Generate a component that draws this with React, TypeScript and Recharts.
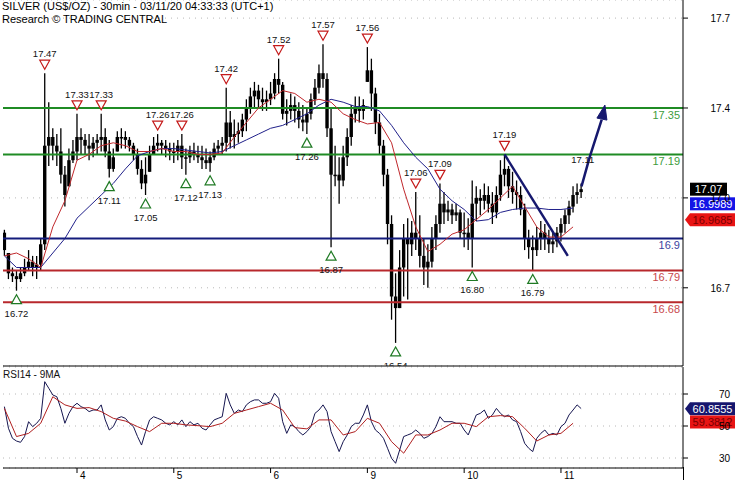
import React from "react";
import {
  ComposedChart,
  Bar,
  Line,
  Scatter,
  XAxis,
  YAxis,
  CartesianGrid,
  ReferenceLine,
  ReferenceDot,
} from "recharts";

// hourly bars, index 0 = first bar of day 3
const dayTickBars = [18, 42, 66, 90, 114, 138];
const dayLabels = ["4", "5", "6", "9", "10", "11"];

const firstOpen = 16.92;
const barHigh = [
  16.93, 16.85, 16.8, 16.79, 16.8, 16.83, 16.86, 16.84, 16.84, 16.9, 17.47, 17.37, 17.28, 17.26, 17.28, 17.15, 17.21, 17.24,
  17.33, 17.28, 17.26, 17.26, 17.25, 17.26, 17.33, 17.28, 17.24, 17.21, 17.27, 17.28, 17.27, 17.25, 17.23, 17.21, 17.17, 17.18, 17.22, 17.25, 17.26, 17.24, 17.24, 17.23,
  17.23, 17.24, 17.26, 17.21, 17.22, 17.23, 17.22, 17.22, 17.21, 17.2, 17.23, 17.24, 17.25, 17.42, 17.34, 17.31, 17.3, 17.33, 17.38, 17.42, 17.44, 17.43, 17.42, 17.41,
  17.44, 17.47, 17.52, 17.44, 17.38, 17.4, 17.39, 17.37, 17.36, 17.35, 17.4, 17.45, 17.5, 17.57, 17.47, 17.35, 17.22, 17.18, 17.22, 17.28, 17.36, 17.39, 17.39, 17.38,
  17.56, 17.52, 17.42, 17.33, 17.24, 17.14, 16.98, 16.78, 16.86, 16.95, 16.97, 16.96, 17.06, 16.98, 16.9, 16.88, 16.94, 16.98, 17.09, 17.06, 17.03, 17.02, 17.02, 17.0,
  16.99, 16.97, 17.1, 17.08, 17.07, 17.09, 17.08, 17.06, 17.08, 17.17, 17.19, 17.15, 17.13, 17.1, 17.08, 17.02, 16.93, 16.91, 16.94, 16.96, 16.95, 16.93, 16.92, 16.94,
  16.97, 17.0, 17.03, 17.08, 17.09, 17.09,
];
const barLow = [
  16.84, 16.76, 16.75, 16.72, 16.75, 16.77, 16.79, 16.77, 16.76, 16.79, 16.86, 17.15, 17.17, 17.15, 17.09, 17.01, 17.08, 17.16,
  17.17, 17.19, 17.19, 17.17, 17.18, 17.19, 17.2, 17.18, 17.11, 17.13, 17.2, 17.21, 17.21, 17.2, 17.17, 17.12, 17.07, 17.05, 17.13, 17.19, 17.2, 17.19, 17.18, 17.17,
  17.16, 17.17, 17.14, 17.12, 17.16, 17.17, 17.16, 17.14, 17.14, 17.13, 17.17, 17.19, 17.19, 17.2, 17.21, 17.21, 17.23, 17.25, 17.27, 17.33, 17.35, 17.35, 17.34, 17.34,
  17.36, 17.38, 17.4, 17.31, 17.29, 17.31, 17.3, 17.28, 17.27, 17.26, 17.31, 17.36, 17.4, 17.42, 17.25, 16.87, 17.08, 17.02, 17.08, 17.15, 17.22, 17.3, 17.3, 17.31,
  17.44, 17.34, 17.26, 17.19, 17.08, 16.88, 16.62, 16.54, 16.66, 16.7, 16.69, 16.84, 16.86, 16.8, 16.74, 16.73, 16.8, 16.86, 16.92, 16.95, 16.96, 16.95, 16.96, 16.9,
  16.87, 16.86, 16.8, 16.96, 16.98, 17.0, 16.99, 16.95, 16.97, 17.03, 17.08, 17.04, 17.02, 17.0, 16.98, 16.86, 16.83, 16.79, 16.84, 16.86, 16.86, 16.85, 16.85, 16.87,
  16.89, 16.92, 16.95, 16.99, 17.02, 17.04,
];
const barClose = [
  16.86, 16.78, 16.77, 16.76, 16.78, 16.8, 16.82, 16.8, 16.81, 16.88, 17.22, 17.25, 17.22, 17.2, 17.12, 17.05, 17.17, 17.2,
  17.25, 17.24, 17.22, 17.21, 17.23, 17.24, 17.25, 17.2, 17.14, 17.18, 17.25, 17.25, 17.24, 17.22, 17.19, 17.14, 17.09, 17.12, 17.19, 17.22, 17.23, 17.22, 17.21, 17.2,
  17.2, 17.22, 17.18, 17.18, 17.2, 17.19, 17.18, 17.17, 17.16, 17.18, 17.21, 17.22, 17.23, 17.3, 17.25, 17.26, 17.27, 17.31, 17.35, 17.39, 17.41, 17.38, 17.37, 17.38,
  17.4, 17.45, 17.43, 17.33, 17.34, 17.36, 17.34, 17.31, 17.3, 17.33, 17.38, 17.42, 17.47, 17.45, 17.28, 17.12, 17.12, 17.1, 17.18, 17.25, 17.33, 17.35, 17.34, 17.36,
  17.48, 17.4, 17.3, 17.22, 17.12, 16.95, 16.7, 16.66, 16.8, 16.9, 16.88, 16.92, 16.9, 16.84, 16.8, 16.82, 16.9, 16.95, 17.02, 16.99, 17.0, 16.98, 16.99, 16.92,
  16.92, 16.9, 17.02, 17.04, 17.03, 17.05, 17.02, 16.99, 17.05, 17.12, 17.14, 17.08, 17.06, 17.05, 17.0, 16.9, 16.87, 16.86, 16.9, 16.92, 16.9, 16.88, 16.89, 16.92,
  16.95, 16.98, 17.01, 17.05, 17.06, 17.07,
];

// moving averages read every 3 bars
const MA_STEP = 3;
const maRed = [
  16.84, 16.85, 16.83, 16.8, 16.94, 17.03, 17.17, 17.19, 17.22, 17.23, 17.22, 17.2, 17.2, 17.21, 17.2, 17.2,
  17.19, 17.19, 17.195, 17.25, 17.3, 17.35, 17.38, 17.41, 17.4, 17.37, 17.38, 17.37, 17.33, 17.31, 17.295, 17.3,
  17.23, 17.07, 16.94, 16.855, 16.88, 16.915, 16.93, 16.965, 17.0, 17.04, 17.08, 17.01, 16.94, 16.905, 16.905, 16.94,
];
const maBlue = [
  16.84, 16.8, 16.8, 16.8, 16.85, 16.9, 16.97, 17.01, 17.05, 17.09, 17.14, 17.185, 17.2, 17.21, 17.21, 17.205,
  17.2, 17.195, 17.2, 17.22, 17.24, 17.26, 17.28, 17.29, 17.31, 17.33, 17.36, 17.38, 17.37, 17.355, 17.355, 17.34,
  17.29, 17.23, 17.18, 17.14, 17.07, 17.03, 17.0, 16.96, 16.965, 16.99, 17.0, 17.005, 17.005, 17.0, 17.0, 17.005,
];

const rsi = [
  62.1, 48.6, 42.3, 40.6, 39.8, 43.4, 52.7, 49.6, 51.7, 54.8, 77.7, 73.6, 69.4, 68.3, 61.0, 51.7, 57.9, 62.1,
  64.2, 62.1, 61.0, 59.0, 60.0, 60.0, 63.2, 53.8, 47.5, 49.6, 54.8, 55.8, 54.8, 51.7, 49.6, 43.4, 38.1, 46.5, 53.8, 55.8, 54.8, 53.8, 51.7, 50.7,
  52.7, 50.7, 53.8, 49.6, 52.7, 50.7, 51.7, 48.6, 47.5, 50.7, 53.8, 54.8, 55.8, 70.4, 63.2, 57.9, 60.0, 59.0, 63.2, 65.2, 66.3, 66.3, 64.2, 64.2,
  65.2, 70.4, 67.3, 52.7, 45.4, 50.7, 49.6, 46.5, 44.4, 46.5, 49.6, 57.9, 60.0, 63.2, 59.0, 46.5, 40.2, 34.0, 40.2, 44.4, 49.6, 51.7, 51.7, 56.9,
  63.2, 52.7, 47.5, 45.4, 42.3, 36.1, 29.8, 26.7, 35.0, 43.4, 44.4, 45.4, 47.5, 45.4, 42.3, 43.4, 45.4, 49.6, 55.8, 52.7, 52.7, 52.7, 51.7, 51.7,
  47.5, 44.4, 50.7, 56.9, 57.9, 60.0, 54.8, 56.9, 61.0, 57.9, 55.8, 56.9, 53.8, 52.7, 46.5, 39.2, 36.1, 34.0, 42.3, 45.4, 47.5, 44.4, 45.4, 44.4,
  49.6, 51.7, 56.9, 60.0, 63.2, 60.9,
];
const rsiMa = [
  61.0, 43.4, 45.4, 51.7, 68.3, 63.2, 61.0, 61.5, 59.0, 54.8, 53.1, 49.6, 46.5, 51.7, 51.7, 50.7,
  50.2, 49.6, 51.7, 57.9, 60.0, 62.1, 64.2, 60.0, 49.0, 48.2, 53.8, 53.8, 44.4, 46.5, 54.8, 51.7,
  40.2, 33.0, 44.4, 44.4, 47.5, 51.7, 51.7, 49.6, 55.8, 56.5, 55.8, 48.6, 40.6, 44.4, 45.4, 51.7,
];

const highMarkBars = [10, 18, 24, 38, 44, 55, 68, 79, 90, 102, 108, 124];
const highMarkValues = [17.47, 17.33, 17.33, 17.26, 17.26, 17.42, 17.52, 17.57, 17.56, 17.06, 17.09, 17.19];
const lowMarkBars = [3, 26, 35, 45, 51, 75, 81, 97, 116, 131];
const lowMarkValues = [16.72, 17.11, 17.05, 17.12, 17.13, 17.26, 16.87, 16.54, 16.8, 16.79];

const levelValues = [17.35, 17.19, 16.9, 16.79, 16.68];
const levelLabels = ["17.35", "17.19", "16.9", "16.79", "16.68"];
const levelKinds = ["res", "res", "pivot", "sup", "sup"];

const priceTicks = [16.73, 17.04, 17.35, 17.66];
const priceTickLabels = ["16.7", "17.0", "17.4", "17.7"];
const rsiTicks = [30, 50, 70];

const trendBars = [124, 139.7];
const trendPrices = [17.19, 16.84];
const arrowBars = [143.1, 145.1, 148.1];
const arrowPrices = [17.08, 17.18, 17.31];
const arrowTip = { k: 148.9, v: 17.36 };
const targetNote = { k: 143.4, v: 17.16, text: "17.11" };

const lastClose = 17.07;
const lastBlueMa = 16.9989;
const lastRedMa = 16.9685;
const lastRsi = 60.8555;
const lastRsiMa = 59.3812;

const X_DOMAIN = [-0.35, 168.26];
const PRICE_DOMAIN = [16.4603, 17.7224];
const RSI_DOMAIN = [23.75, 86.875];

const FONT = '"Liberation Sans", Arial, sans-serif';
const levelColor: Record<string, string> = { res: "#1f8b24", pivot: "#141c7c", sup: "#b8282c" };
const levelText: Record<string, string> = { res: "#3c9c3c", pivot: "#3c44a0", sup: "#c8484c" };

const priceRows = barHigh.map((h, k) => {
  const l = barLow[k];
  const prev = k === 0 ? firstOpen : barClose[k - 1];
  const o = Math.min(h, Math.max(l, prev));
  return { k, o, h, l, c: barClose[k], range: [l, h] };
});
const maRedData = maRed.map((v, j) => ({ k: j * MA_STEP, v }));
const maBlueData = maBlue.map((v, j) => ({ k: j * MA_STEP, v }));
const rsiData = rsi.map((v, k) => ({ k, v }));
const rsiMaData = rsiMa.map((v, j) => ({ k: j * MA_STEP, v }));
const highMarks = highMarkBars.map((k, i) => ({ k, v: highMarkValues[i] }));
const lowMarks = lowMarkBars.map((k, i) => ({ k, v: lowMarkValues[i] }));
const arrowData = arrowBars.map((k, i) => ({ k, v: arrowPrices[i] }));

const Candle = (props: any) => {
  const { x, y, width, height, payload } = props;
  if (x == null || y == null) return null;
  const top = height >= 0 ? y : y + height;
  const hh = Math.abs(height);
  const { o, h, l, c } = payload;
  const ppu = h > l ? hh / (h - l) : 0;
  const cx = x + width / 2;
  const b1 = top + (h - Math.max(o, c)) * ppu;
  const b2 = top + (h - Math.min(o, c)) * ppu;
  return (
    <g>
      <line x1={cx} x2={cx} y1={top} y2={top + hh} stroke="#000" strokeWidth={1.3} />
      <rect x={cx - 1.7} y={b1} width={3.4} height={Math.max(1.5, b2 - b1)} fill="#000" />
    </g>
  );
};

const HighMark = (props: any) => {
  const { cx, cy, payload } = props;
  return (
    <g>
      <polygon
        points={`${cx - 5},${cy - 13} ${cx + 5},${cy - 13} ${cx},${cy - 4}`}
        fill="#fff"
        stroke="#c41a1a"
        strokeWidth={1.2}
      />
      <text x={cx} y={cy - 16} textAnchor="middle" fontSize={9.5} fontFamily={FONT} fill="#111">
        {payload.v.toFixed(2)}
      </text>
    </g>
  );
};

const LowMark = (props: any) => {
  const { cx, cy, payload } = props;
  return (
    <g>
      <polygon
        points={`${cx - 5},${cy + 13} ${cx + 5},${cy + 13} ${cx},${cy + 4}`}
        fill="#fff"
        stroke="#1f7a24"
        strokeWidth={1.2}
      />
      <text x={cx} y={cy + 26} textAnchor="middle" fontSize={9.5} fontFamily={FONT} fill="#111">
        {payload.v.toFixed(2)}
      </text>
    </g>
  );
};

const ArrowHead = (props: any) => {
  const { cx, cy } = props;
  return (
    <polygon
      points={`${cx},${cy} ${cx + 2},${cy + 15} ${cx - 8},${cy + 13}`}
      fill="#16186e"
      stroke="#16186e"
    />
  );
};

const NoteText = (props: any) => {
  const { cx, cy } = props;
  return (
    <text x={cx} y={cy} textAnchor="middle" fontSize={9.5} fontFamily={FONT} fill="#111">
      {targetNote.text}
    </text>
  );
};

const makeBadge = (text: string, bg: string, fg: string, pointer: boolean, dy: number, w: number) => {
  const Badge = (props: any) => {
    const { cx, cy } = props;
    const y = cy + dy;
    const left = cx + 7;
    return (
      <g>
        {pointer ? (
          <polygon
            points={`${cx + 2},${y} ${left},${y - 6.5} ${left + w},${y - 6.5} ${left + w},${y + 6.5} ${left},${y + 6.5}`}
            fill={bg}
          />
        ) : (
          <rect x={left} y={y - 6.5} width={w} height={13} fill={bg} />
        )}
        <text
          x={left + w / 2}
          y={y + 4}
          textAnchor="middle"
          fontSize={11}
          fontFamily={FONT}
          fill={fg}
        >
          {text}
        </text>
      </g>
    );
  };
  return Badge;
};

const PriceTick = (props: any) => {
  const { x, y, payload } = props;
  const i = priceTicks.indexOf(payload.value);
  return (
    <text x={x + 40} y={y + 4} textAnchor="end" fontSize={10} fontFamily={FONT} fill="#000">
      {priceTickLabels[i]}
    </text>
  );
};

const RsiTick = (props: any) => {
  const { x, y, payload } = props;
  return (
    <text x={x + 40} y={y + 4} textAnchor="end" fontSize={10} fontFamily={FONT} fill="#000">
      {payload.value}
    </text>
  );
};

const DayTick = (props: any) => {
  const { x, y, payload } = props;
  const i = dayTickBars.indexOf(payload.value);
  return (
    <text x={x + 3} y={y + 6} fontSize={10} fontFamily={FONT} fill="#000">
      {dayLabels[i]}
    </text>
  );
};

export default function App() {
  return (
    <div style={{ position: "relative", width: 735, height: 480, background: "#fff", fontFamily: FONT }}>
      <style>{"body{margin:0;background:#fff}"}</style>
      <ComposedChart
        width={735}
        height={367}
        data={priceRows}
        margin={{ top: 0, right: 0, bottom: 0, left: 3 }}
      >
        <CartesianGrid horizontal vertical={false} stroke="#b8b8b8" strokeDasharray="1 5" />
        <XAxis
          dataKey="k"
          type="number"
          domain={X_DOMAIN}
          allowDataOverflow
          ticks={dayTickBars}
          tick={false}
          tickLine={false}
          height={1}
          axisLine={{ stroke: "#000" }}
        />
        <YAxis
          orientation="right"
          type="number"
          domain={PRICE_DOMAIN}
          allowDataOverflow
          ticks={priceTicks}
          interval={0}
          width={52}
          tickSize={5}
          tickLine={{ stroke: "#000" }}
          axisLine={{ stroke: "#000" }}
          tick={<PriceTick />}
        />
        {levelValues.map((v, i) => (
          <ReferenceLine
            key={levelLabels[i]}
            y={v}
            stroke={levelColor[levelKinds[i]]}
            strokeWidth={2}
            label={{
              value: levelLabels[i],
              position: "insideTopRight",
              offset: 3,
              fill: levelText[levelKinds[i]],
              fontSize: 11,
              fontFamily: FONT,
            }}
          />
        ))}
        <Bar dataKey="range" barSize={3} shape={<Candle />} isAnimationActive={false} />
        <Line
          data={maBlueData}
          dataKey="v"
          stroke="#20208a"
          strokeWidth={1}
          dot={false}
          isAnimationActive={false}
        />
        <Line
          data={maRedData}
          dataKey="v"
          stroke="#c0282c"
          strokeWidth={1}
          dot={false}
          isAnimationActive={false}
        />
        <ReferenceLine
          segment={[
            { x: trendBars[0], y: trendPrices[0] },
            { x: trendBars[1], y: trendPrices[1] },
          ]}
          stroke="#16186e"
          strokeWidth={2.5}
        />
        <Line
          data={arrowData}
          dataKey="v"
          stroke="#16186e"
          strokeWidth={2.5}
          dot={false}
          isAnimationActive={false}
        />
        <ReferenceDot x={arrowTip.k} y={arrowTip.v} shape={<ArrowHead />} />
        <ReferenceDot x={targetNote.k} y={targetNote.v} shape={<NoteText />} />
        <Scatter data={highMarks} dataKey="v" shape={<HighMark />} isAnimationActive={false} />
        <Scatter data={lowMarks} dataKey="v" shape={<LowMark />} isAnimationActive={false} />
        <ReferenceDot
          x={X_DOMAIN[1]}
          y={lastClose}
          shape={makeBadge(lastClose.toFixed(2), "#000", "#fff", false, 0, 37)}
        />
        <ReferenceDot
          x={X_DOMAIN[1]}
          y={lastBlueMa}
          shape={makeBadge(lastBlueMa.toFixed(4), "#1414e6", "#fff", false, -6, 45)}
        />
        <ReferenceDot
          x={X_DOMAIN[1]}
          y={lastRedMa}
          shape={makeBadge(lastRedMa.toFixed(4), "#e81414", "#7a0000", true, 1, 45)}
        />
      </ComposedChart>
      <ComposedChart
        width={735}
        height={113}
        data={rsiData}
        margin={{ top: 0, right: 0, bottom: 0, left: 3 }}
      >
        <CartesianGrid horizontal vertical={false} stroke="#b8b8b8" strokeDasharray="1 5" />
        <XAxis
          dataKey="k"
          type="number"
          domain={X_DOMAIN}
          allowDataOverflow
          ticks={dayTickBars}
          interval={0}
          height={12}
          tickSize={5}
          tickMargin={0}
          tickLine={{ stroke: "#000" }}
          axisLine={{ stroke: "#000" }}
          tick={<DayTick />}
        />
        <YAxis
          orientation="right"
          type="number"
          domain={RSI_DOMAIN}
          allowDataOverflow
          ticks={rsiTicks}
          interval={0}
          width={52}
          tickSize={5}
          tickLine={{ stroke: "#000" }}
          axisLine={{ stroke: "#000" }}
          tick={<RsiTick />}
        />
        <Line
          dataKey="v"
          stroke="#161650"
          strokeWidth={1}
          dot={false}
          isAnimationActive={false}
        />
        <Line
          data={rsiMaData}
          dataKey="v"
          stroke="#b02020"
          strokeWidth={1}
          dot={false}
          isAnimationActive={false}
        />
        <ReferenceDot
          x={X_DOMAIN[1]}
          y={lastRsi}
          shape={makeBadge(lastRsi.toFixed(4), "#16166e", "#fff", true, 0, 45)}
        />
        <ReferenceDot
          x={X_DOMAIN[1]}
          y={lastRsiMa}
          shape={makeBadge(lastRsiMa.toFixed(4), "#e81414", "#7a0000", false, 11, 45)}
        />
      </ComposedChart>
      <div
        style={{
          position: "absolute",
          left: 2,
          top: 0,
          fontSize: 11,
          lineHeight: "13px",
          color: "#000",
          whiteSpace: "nowrap",
        }}
      >
        SILVER (US$/OZ) - 30min - 03/11/20 04:33:33 (UTC+1)
        <br />
        Research © TRADING CENTRAL
      </div>
      <div
        style={{
          position: "absolute",
          left: 3,
          top: 369,
          fontSize: 10,
          lineHeight: "12px",
          color: "#111",
        }}
      >
        RSI14 - 9MA
      </div>
      <div style={{ position: "absolute", left: 683, top: 467, width: 1, height: 13, background: "#000" }} />
    </div>
  );
}
